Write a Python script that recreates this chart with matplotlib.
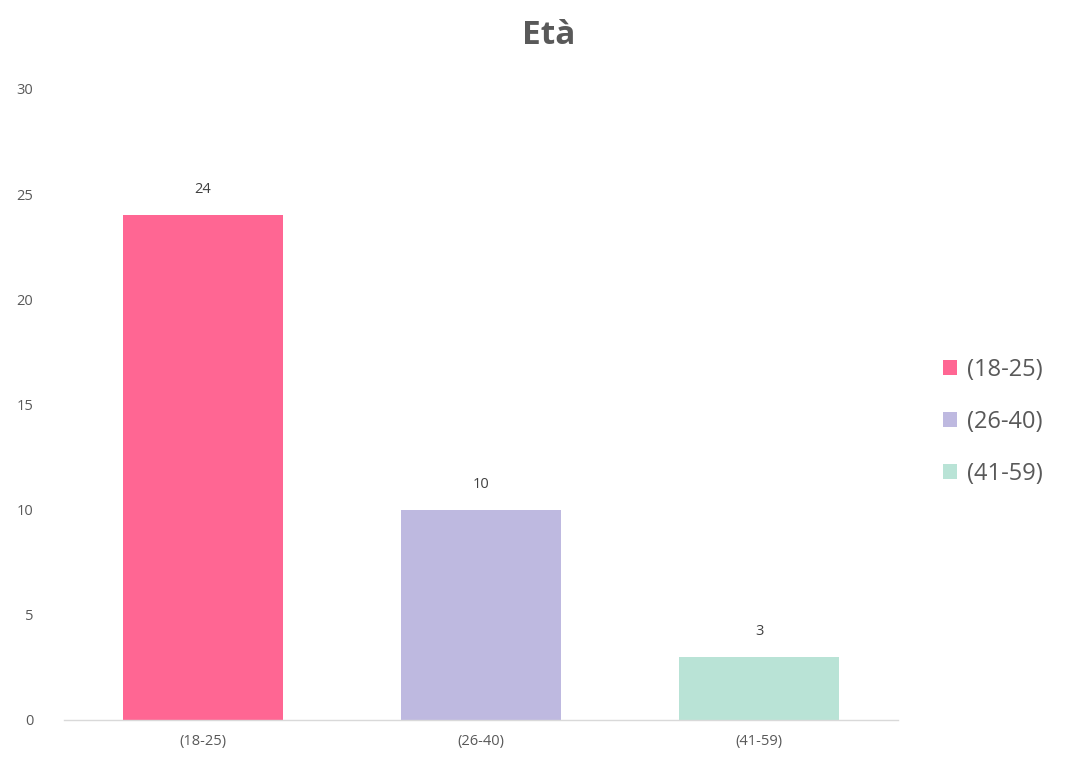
import matplotlib
matplotlib.use("Agg")
import matplotlib.pyplot as plt
from matplotlib.patches import Patch

# data
categories = ["(18-25)", "(26-40)", "(41-59)"]
values = [24, 10, 3]
colors = ["#FF6693", "#BEB9E0", "#B9E3D6"]
yticks = [0, 5, 10, 15, 20, 25, 30]

plt.rcParams['font.family'] = ['Open Sans', 'DejaVu Sans']

fig = plt.figure(figsize=(10.67, 7.63), dpi=100)
ax = fig.add_axes([0.060, 0.0564, 0.782, 0.827])

x = range(len(categories))
bars = ax.bar(x, values, width=0.575, color=colors, zorder=2)

for xi, v in zip(x, values):
    ax.text(xi, v + 0.85, str(v), ha='center', va='bottom', fontsize=10.5, color='#404040')

ax.set_xlim(-0.5, len(categories) - 0.5)
ax.set_ylim(0, 30)
ax.set_yticks(yticks)
ax.set_xticks(list(x))
ax.set_xticklabels(categories)
ax.tick_params(axis='both', length=0, labelsize=10.5, colors='#595959')
ax.tick_params(axis='y', pad=22)
ax.tick_params(axis='x', pad=10)

for side in ['top', 'right', 'left']:
    ax.spines[side].set_visible(False)
ax.spines['bottom'].set_color('#D9D9D9')
ax.spines['bottom'].set_linewidth(1.0)

fig.text(0.514, 0.953, "Età", ha='center', va='center', fontsize=24,
         fontweight='bold', color='#595959')

handles = [Patch(facecolor=c, edgecolor='none') for c in colors]
fig.legend(handles, categories, loc='center left', bbox_to_anchor=(0.864, 0.447),
           frameon=False, fontsize=17, labelcolor='#595959',
           handlelength=0.6, handleheight=0.6, handletextpad=0.4, labelspacing=1.2)

fig.savefig("out.png", dpi=100)
